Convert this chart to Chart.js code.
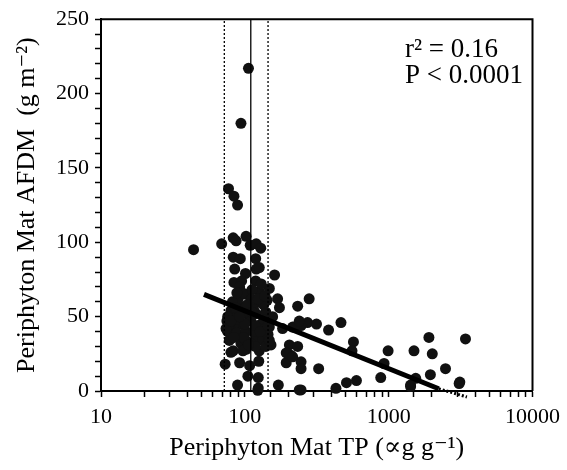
<!DOCTYPE html>
<html><head><meta charset="utf-8">
<script src="https://cdn.jsdelivr.net/npm/chart.js@4/dist/chart.umd.min.js"></script>
<style>html,body{margin:0;padding:0;background:#fff;} canvas{display:block;}</style>
</head><body>
<canvas id="c" width="567" height="470"></canvas>
<script>
// Periphyton mat TP (µg/g) and AFDM (g/m2)
const tpValues = [
  106, 94, 77, 84, 89, 44, 69,
  83, 87, 102, 109, 120, 129,
  83, 93, 119, 85, 120, 101, 126, 161, 84, 119, 148, 95, 92, 102, 126, 169, 143, 126, 108, 92, 80, 76,
  102, 120, 140, 156, 148, 130, 110, 94, 83, 76, 88, 102, 120, 133, 152, 78, 94, 110, 83, 102, 126, 80, 97,
  73, 92, 108, 125, 105, 124, 89, 124, 171, 123, 75, 89,
  78, 88, 98, 115, 135, 100, 115, 138, 90, 112, 130, 100, 118, 140, 96, 82, 112, 145,
  74, 80, 86, 92, 104, 112, 118, 128, 136, 145, 98, 84, 106, 124, 138, 88,
  233, 280, 174, 273, 315, 215, 246, 382, 466, 183, 221, 239, 148, 204, 233, 569, 556, 991, 1500, 1905, 2010,
  3420, 2484, 1950, 3125, 1420, 929, 881, 597, 509, 430, 246, 246, 209, 326, 194, 246, 194, 215, 1542, 3090, 239, 1420
];
const afdmValues = [
  217, 180, 136, 131, 125, 95, 99,
  103, 101, 104, 98, 99, 96,
  90, 89, 89, 82, 82, 79, 83, 78, 73, 74, 69, 74, 70, 65, 67, 62, 61, 60, 59, 57, 54, 50,
  52, 52, 53, 50, 43, 45, 47, 45, 43, 40, 39, 40, 36, 34, 31, 34, 32, 32, 27, 28, 27, 26, 27,
  18, 19, 17, 20, 10, 9, 4, 2, 4, 0.5, 47, 50,
  45, 48, 55, 55, 58, 45, 40, 40, 62, 68, 72, 35, 30, 30, 66, 60, 62, 38,
  42, 47, 56, 50, 58, 53, 44, 40, 48, 44, 36, 36, 31, 62, 64, 66,
  57, 62, 56, 46, 45, 43, 44, 41, 46, 42, 43, 47, 34, 31, 30, 33, 27, 27, 27, 36, 25,
  35, 15, 11, 6, 4, 18.5, 9, 7, 5.6, 1.8, 0.7, 19.6, 24, 15, 19, 15, 25.6, 23, 8.5, 5, 0.7, 3
];
const xTickLabels = [10, 100, 1000, 10000];
const yTickLabels = [0, 50, 100, 150, 200, 250];
const medianTP = [110, 110];
const ciLowTP = [72, 72];
const ciHighTP = [145, 145];
const verticalSpanY = [0, 250];
const fitLineX = [52, 2230];
const fitLineY = [65, 1.5];
const fitTailX = [2230, 3500];
const fitTailY = [1.5, -4];
const statsText = ['r\u00B2 = 0.16', 'P < 0.0001'];

const serif = "'Liberation Serif', 'DejaVu Serif', 'Times New Roman', serif";
const pts = tpValues.map((x, i) => ({x, y: afdmValues[i]}));
const pairs = (xs, ys) => xs.map((x, i) => ({x, y: ys[i]}));

const framePlugin = {
  id: 'frame',
  afterDatasetsDraw(chart) {
    const {ctx, chartArea: a} = chart;
    ctx.save();
    ctx.strokeStyle = '#000';
    ctx.lineWidth = 2;
    ctx.beginPath();
    ctx.moveTo(a.left, a.top); ctx.lineTo(a.right, a.top); ctx.lineTo(a.right, a.bottom);
    ctx.stroke();
    ctx.restore();
  }
};
const statsPlugin = {
  id: 'stats',
  afterDraw(chart) {
    const ctx = chart.ctx;
    ctx.save();
    ctx.fillStyle = '#000';
    ctx.font = '27px ' + serif;
    ctx.textBaseline = 'alphabetic';
    ctx.textAlign = 'left';
    ctx.fillText(statsText[0], 405, 57);
    ctx.fillText(statsText[1], 405, 83);
    ctx.restore();
  }
};

const isLabel = (arr, v) => arr.some(t => Math.abs(t - v) < 1e-6 * Math.max(1, t));

new Chart(document.getElementById('c'), {
  type: 'scatter',
  data: {
    datasets: [
      {type: 'line', data: pairs(medianTP, verticalSpanY), borderColor: '#000', borderWidth: 1.3, pointRadius: 0, fill: false},
      {type: 'line', data: pairs(ciLowTP, verticalSpanY), borderColor: '#000', borderWidth: 1.3, borderDash: [2, 2], pointRadius: 0, fill: false},
      {type: 'line', data: pairs(ciHighTP, verticalSpanY), borderColor: '#000', borderWidth: 1.3, borderDash: [2, 2], pointRadius: 0, fill: false},
      {type: 'line', data: pairs(fitLineX, fitLineY), borderColor: '#000', borderWidth: 5, pointRadius: 0, fill: false, clip: false},
      {type: 'line', data: pairs(fitTailX, fitTailY), borderColor: '#000', borderWidth: 3, borderDash: [2, 2], pointRadius: 0, fill: false, clip: false},
      {data: pts, pointRadius: 5.5, pointHoverRadius: 5.5, backgroundColor: '#111', borderWidth: 0, clip: false}
    ]
  },
  options: {
    responsive: false, animation: false, devicePixelRatio: 1,
    layout: {padding: {top: 17, right: 33, left: 0, bottom: 0}},
    plugins: {legend: {display: false}, tooltip: {enabled: false}},
    scales: {
      x: {
        type: 'logarithmic', min: 10, max: 10000, position: 'bottom',
        afterFit(s) { s.height = 79; },
        grid: {drawOnChartArea: false, drawTicks: true, tickLength: 6, tickColor: '#000', tickWidth: 1.5},
        border: {display: true, color: '#000', width: 2},
        ticks: {autoSkip: false, maxRotation: 0, color: '#000', padding: 7,
          font: {family: serif, size: 22},
          callback(v) { return isLabel(xTickLabels, v) ? String(Math.round(v)) : ''; }},
        title: {display: true, text: 'Periphyton Mat TP (\u221Dg g\u207B\u00B9)', color: '#000',
          font: {family: serif, size: 26}, padding: {top: 0, bottom: 6}}
      },
      y: {
        min: 0, max: 250,
        afterFit(s) { s.width = 101; },
        grid: {drawOnChartArea: false, drawTicks: true, tickLength: 6, tickColor: '#000', tickWidth: 1.5},
        border: {display: true, color: '#000', width: 2},
        ticks: {stepSize: 10, autoSkip: false, color: '#000', padding: 6,
          font: {family: serif, size: 22},
          callback(v) { return isLabel(yTickLabels, v) ? String(v) : ''; }},
        title: {display: true, text: 'Periphyton Mat AFDM  (g m\u207B\u00B2)', color: '#000',
          font: {family: serif, size: 26}, padding: {top: 12, bottom: 0}}
      }
    }
  },
  plugins: [framePlugin, statsPlugin]
});
</script>
</body></html>
